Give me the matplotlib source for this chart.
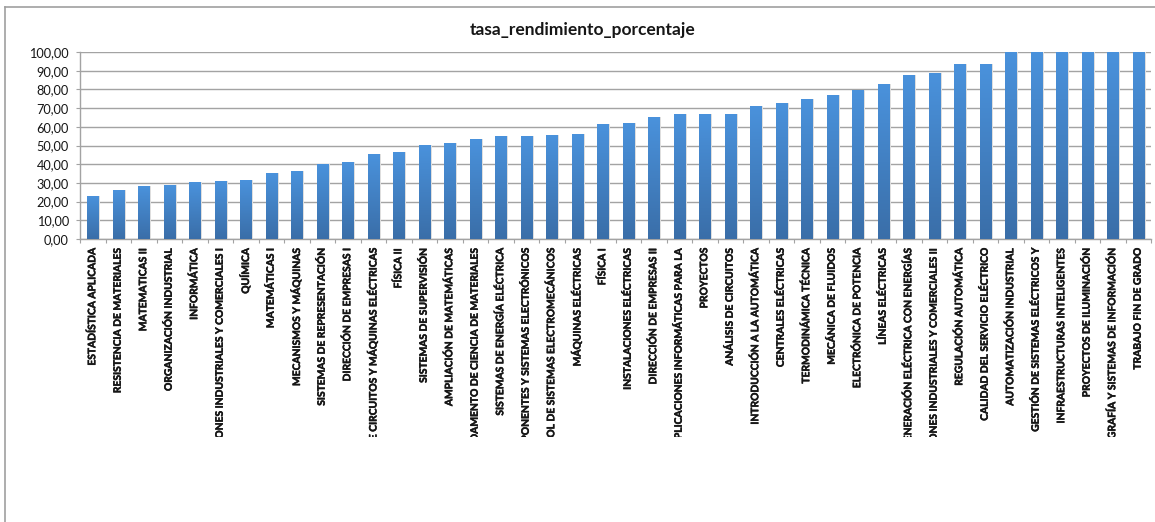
import matplotlib.pyplot as plt
import matplotlib.patheffects as pe
import numpy as np
from matplotlib.colors import LinearSegmentedColormap
from matplotlib.lines import Line2D
from matplotlib.transforms import Bbox, TransformedBbox, blended_transform_factory

asignaturas = [
    "ESTADÍSTICA APLICADA", "RESISTENCIA DE MATERIALES", "MATEMATICAS II",
    "ORGANIZACIÓN INDUSTRIAL", "INFORMÁTICA",
    "INSTALACIONES INDUSTRIALES Y COMERCIALES I", "QUÍMICA", "MATEMÁTICAS I",
    "MECANISMOS Y MÁQUINAS", "SISTEMAS DE REPRESENTACIÓN",
    "DIRECCIÓN DE EMPRESAS I", "TEORÍA DE CIRCUITOS Y MÁQUINAS ELÉCTRICAS",
    "FÍSICA II", "SISTEMAS DE SUPERVISIÓN", "AMPLIACIÓN DE MATEMÁTICAS",
    "FUNDAMENTO DE CIENCIA DE MATERIALES", "SISTEMAS DE ENERGÍA ELÉCTRICA",
    "COMPONENTES Y SISTEMAS ELECTRÓNICOS", "CONTROL DE SISTEMAS ELECTROMECÁNICOS",
    "MÁQUINAS ELÉCTRICAS", "FÍSICA I", "INSTALACIONES ELÉCTRICAS",
    "DIRECCIÓN DE EMPRESAS II", "APLICACIONES INFORMÁTICAS PARA LA",
    "PROYECTOS", "ANÁLISIS DE CIRCUITOS", "INTRODUCCIÓN A LA AUTOMÁTICA",
    "CENTRALES ELÉCTRICAS", "TERMODINÁMICA TÉCNICA", "MECÁNICA DE FLUIDOS",
    "ELECTRÓNICA DE POTENCIA", "LÍNEAS ELÉCTRICAS",
    "GENERACIÓN ELÉCTRICA CON ENERGÍAS",
    "INSTALACIONES INDUSTRIALES Y COMERCIALES II", "REGULACIÓN AUTOMÁTICA",
    "CALIDAD DEL SERVICIO ELÉCTRICO", "AUTOMATIZACIÓN INDUSTRIAL",
    "GESTIÓN DE SISTEMAS ELÉCTRICOS Y", "INFRAESTRUCTURAS INTELIGENTES",
    "PROYECTOS DE ILUMINACIÓN", "TOPOGRAFÍA Y SISTEMAS DE INFORMACIÓN",
    "TRABAJO FIN DE GRADO",
]
tasas = [
    23.0, 26.2, 28.3, 28.8, 30.4, 31.0, 31.5, 35.2, 36.3, 40.0,
    41.1, 45.4, 46.4, 50.2, 51.2, 53.4, 55.0, 55.0, 55.5, 56.0,
    61.4, 61.9, 65.1, 66.7, 66.7, 66.7, 71.0, 72.6, 74.7, 76.9,
    79.5, 82.7, 87.5, 88.6, 93.4, 93.4, 100.0, 100.0, 100.0, 100.0,
    100.0, 100.0,
]
titulo = "tasa_rendimiento_porcentaje"

plt.rcParams['font.family'] = ['Lato', 'DejaVu Sans']
gris = '#a3a3a3'
texto = '#161616'

fig = plt.figure(figsize=(11.55, 5.22), dpi=100)
W, H = 1155, 522
ax = fig.add_axes([80 / W, 1 - 239 / H, 1071 / W, 187 / H])

x = np.arange(len(asignaturas))
ancho = 0.44

# sombra suave a la derecha de cada barra
ax.bar(x + 0.07, tasas, width=ancho, color='#dedede', zorder=2)
barras = ax.bar(x, tasas, width=ancho, color='#4585cc', zorder=3)

# degradado vertical en cada barra
cmap = LinearSegmentedColormap.from_list('azul', ['#3a6ea8', '#4a92dc'])
grad = np.linspace(0, 1, 256).reshape(-1, 1)
for b in barras:
    x0, w, h = b.get_x(), b.get_width(), b.get_height()
    im = ax.imshow(grad, extent=[x0, x0 + w, 0, h], origin='lower',
                   cmap=cmap, aspect='auto', zorder=4)
    im.set_clip_path(b)

ax.set_xlim(-0.5, len(asignaturas) - 0.5)
ax.set_ylim(0, 100)
ax.set_yticks(np.arange(0, 101, 10))
ax.set_yticklabels([f"{v:.2f}".replace('.', ',') for v in np.arange(0, 101, 10)])
ax.yaxis.grid(True, color=gris, lw=1.0, zorder=0)
ax.set_axisbelow(True)

for s in ['top', 'right']:
    ax.spines[s].set_visible(False)
for s in ['left', 'bottom']:
    ax.spines[s].set_color(gris)
    ax.spines[s].set_linewidth(1.0)

ax.tick_params(axis='y', length=3, color=gris, labelsize=9.2, pad=5,
               labelcolor=texto)
ax.set_xticks(np.arange(len(asignaturas) + 1) - 0.5)
ax.set_xticklabels([])
ax.tick_params(axis='x', length=3, color=gris)

# etiquetas verticales recortadas como en la hoja de calculo
trans = blended_transform_factory(ax.transData, fig.transFigure)
recorte = TransformedBbox(Bbox.from_extents(0, 1 - 437 / H, 1, 1), fig.transFigure)
grueso = [pe.withStroke(linewidth=0.35, foreground=texto)]
for xi, nombre in zip(x, asignaturas):
    t = ax.text(xi, 1 - 248 / H, nombre, transform=trans, rotation=90,
                ha='center', va='top', fontsize=7.4, fontweight='bold',
                color=texto, path_effects=grueso)
    t.set_clip_box(recorte)
    t.set_clip_on(True)

fig.text(583 / W, 1 - 30 / H, titulo, ha='center', va='center',
         fontsize=12.5, fontweight='bold', color=texto)

# marco exterior del grafico
fig.add_artist(Line2D([5 / W, 5 / W], [0, 1 - 7 / H], color='#a0a0a0',
                      lw=1.2, transform=fig.transFigure))
fig.add_artist(Line2D([5 / W, 1], [1 - 7 / H, 1 - 7 / H], color='#a0a0a0',
                      lw=1.2, transform=fig.transFigure))

plt.savefig("out.png", dpi=100)
plt.close()
